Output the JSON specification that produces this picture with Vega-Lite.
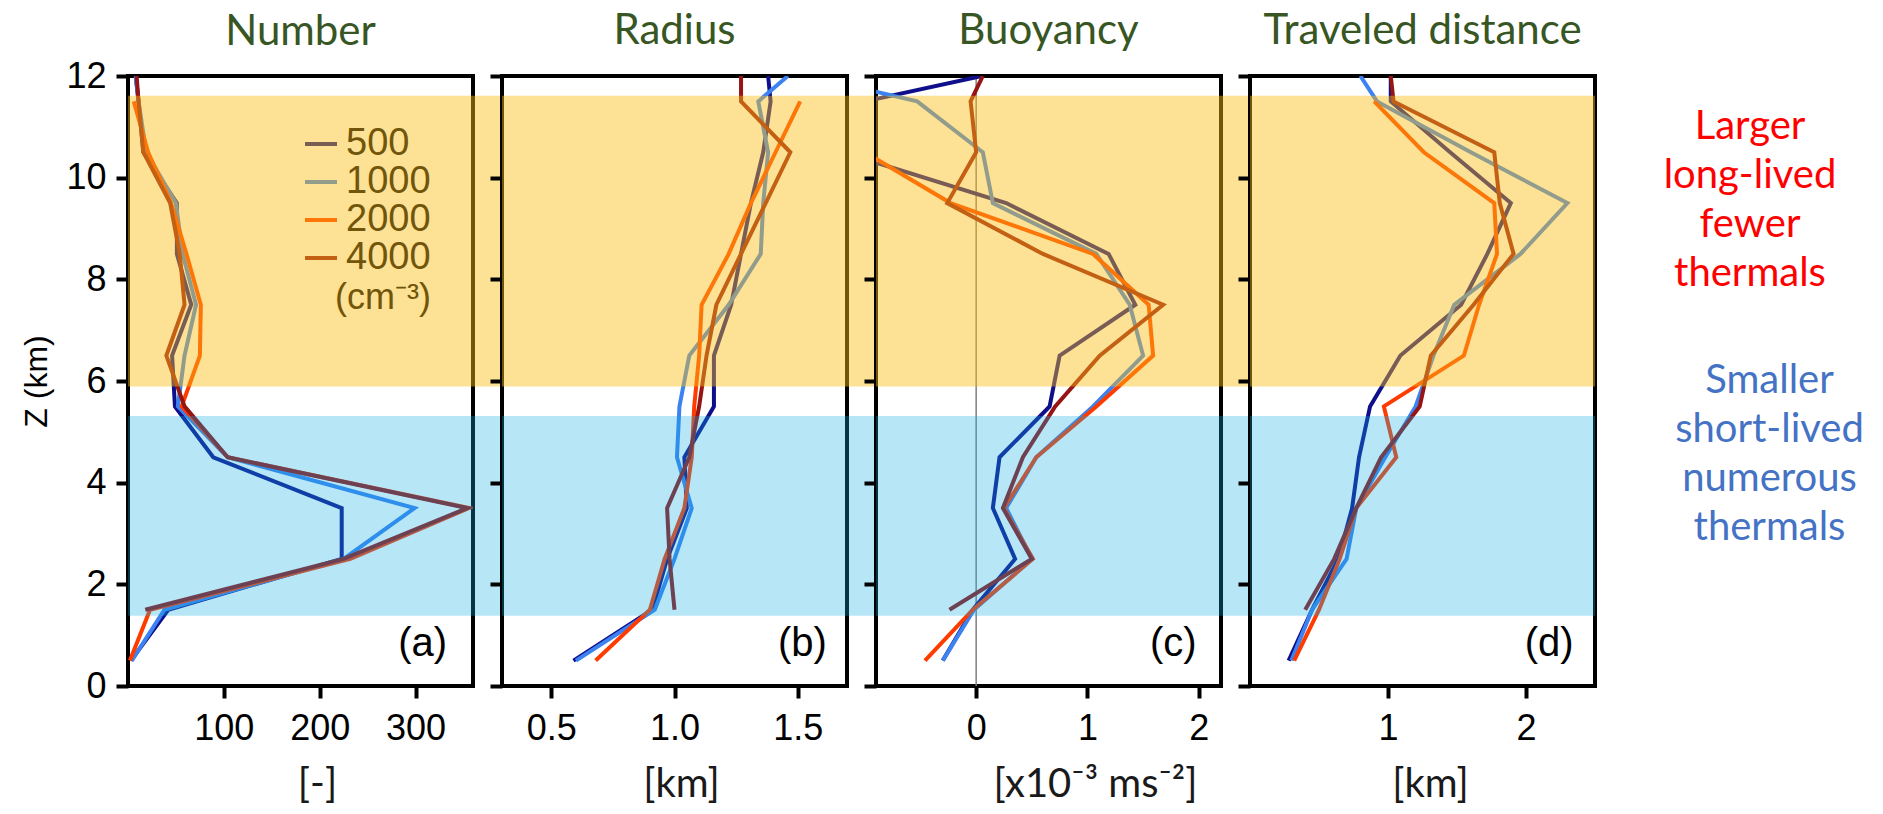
{
  "$schema": "https://vega.github.io/schema/vega-lite/v6.json",
  "background": "white",
  "padding": {"left": 18, "top": 8, "right": 0, "bottom": 0},
  "spacing": 29,
  "bounds": "flush",
  "config": {
    "view": {"stroke": "#000000", "strokeWidth": 4},
    "font": "Liberation Sans",
    "axis": {"grid": false, "domain": false, "tickColor": "#000000", "tickWidth": 4, "tickSize": 12, "labelFontSize": 36, "labelColor": "#000000", "labelFont": "Liberation Sans", "titleFont": "Lato", "titleFontSize": 40, "titleFontWeight": "normal", "titleColor": "#1a1a1a", "labelPadding": 13, "titlePadding": 18},
    "title": {"font": "Lato", "fontSize": 42, "fontWeight": "normal", "color": "#375623", "offset": 21, "anchor": "middle"}
  },
  "datasets": {
    "number": [
      {"ccn": 500, "z": 0.5, "v": 3}, {"ccn": 500, "z": 1.5, "v": 42}, {"ccn": 500, "z": 2.5, "v": 223}, {"ccn": 500, "z": 3.5, "v": 223}, {"ccn": 500, "z": 4.5, "v": 89}, {"ccn": 500, "z": 5.5, "v": 49}, {"ccn": 500, "z": 6.5, "v": 46}, {"ccn": 500, "z": 7.5, "v": 66}, {"ccn": 500, "z": 8.5, "v": 51}, {"ccn": 500, "z": 9.5, "v": 51}, {"ccn": 500, "z": 10.5, "v": 16}, {"ccn": 500, "z": 11.5, "v": 11}, {"ccn": 500, "z": 12, "v": 8},
      {"ccn": 1000, "z": 0.5, "v": 4}, {"ccn": 1000, "z": 1.5, "v": 38}, {"ccn": 1000, "z": 2.5, "v": 225}, {"ccn": 1000, "z": 3.5, "v": 299}, {"ccn": 1000, "z": 4.5, "v": 104}, {"ccn": 1000, "z": 5.5, "v": 52}, {"ccn": 1000, "z": 6.5, "v": 59}, {"ccn": 1000, "z": 7.5, "v": 71}, {"ccn": 1000, "z": 8.5, "v": 57}, {"ccn": 1000, "z": 9.5, "v": 50}, {"ccn": 1000, "z": 10.5, "v": 19}, {"ccn": 1000, "z": 11.5, "v": 11}, {"ccn": 1000, "z": 12, "v": 8},
      {"ccn": 2000, "z": 0.5, "v": 2}, {"ccn": 2000, "z": 1.5, "v": 23}, {"ccn": 2000, "z": 2.5, "v": 232}, {"ccn": 2000, "z": 3.5, "v": 356}, {"ccn": 2000, "z": 4.5, "v": 104}, {"ccn": 2000, "z": 5.5, "v": 56}, {"ccn": 2000, "z": 6.5, "v": 75}, {"ccn": 2000, "z": 7.5, "v": 76}, {"ccn": 2000, "z": 8.5, "v": 61}, {"ccn": 2000, "z": 9.5, "v": 45}, {"ccn": 2000, "z": 10.5, "v": 21}, {"ccn": 2000, "z": 11.5, "v": 6},
      {"ccn": 4000, "z": 1.5, "v": 18}, {"ccn": 4000, "z": 2.5, "v": 225}, {"ccn": 4000, "z": 3.5, "v": 354}, {"ccn": 4000, "z": 4.5, "v": 104}, {"ccn": 4000, "z": 5.5, "v": 59}, {"ccn": 4000, "z": 6.5, "v": 40}, {"ccn": 4000, "z": 7.5, "v": 59}, {"ccn": 4000, "z": 8.5, "v": 54}, {"ccn": 4000, "z": 9.5, "v": 44}, {"ccn": 4000, "z": 10.5, "v": 16}, {"ccn": 4000, "z": 11.5, "v": 11}, {"ccn": 4000, "z": 12, "v": 9}
    ],
    "radius": [
      {"ccn": 500, "z": 0.5, "v": 0.59}, {"ccn": 500, "z": 1.5, "v": 0.91}, {"ccn": 500, "z": 2.5, "v": 0.97}, {"ccn": 500, "z": 3.5, "v": 1.05}, {"ccn": 500, "z": 4.5, "v": 1.04}, {"ccn": 500, "z": 5.5, "v": 1.16}, {"ccn": 500, "z": 6.5, "v": 1.16}, {"ccn": 500, "z": 7.5, "v": 1.23}, {"ccn": 500, "z": 8.5, "v": 1.27}, {"ccn": 500, "z": 9.5, "v": 1.31}, {"ccn": 500, "z": 10.5, "v": 1.36}, {"ccn": 500, "z": 11.5, "v": 1.39}, {"ccn": 500, "z": 12, "v": 1.38},
      {"ccn": 1000, "z": 0.5, "v": 0.6}, {"ccn": 1000, "z": 1.5, "v": 0.92}, {"ccn": 1000, "z": 2.5, "v": 1.0}, {"ccn": 1000, "z": 3.5, "v": 1.07}, {"ccn": 1000, "z": 4.5, "v": 1.01}, {"ccn": 1000, "z": 5.5, "v": 1.02}, {"ccn": 1000, "z": 6.5, "v": 1.06}, {"ccn": 1000, "z": 7.5, "v": 1.22}, {"ccn": 1000, "z": 8.5, "v": 1.35}, {"ccn": 1000, "z": 9.5, "v": 1.36}, {"ccn": 1000, "z": 10.5, "v": 1.38}, {"ccn": 1000, "z": 11.5, "v": 1.34}, {"ccn": 1000, "z": 12, "v": 1.46},
      {"ccn": 2000, "z": 0.5, "v": 0.68}, {"ccn": 2000, "z": 1.5, "v": 0.9}, {"ccn": 2000, "z": 2.5, "v": 0.96}, {"ccn": 2000, "z": 3.5, "v": 1.04}, {"ccn": 2000, "z": 4.5, "v": 1.07}, {"ccn": 2000, "z": 5.5, "v": 1.08}, {"ccn": 2000, "z": 6.5, "v": 1.1}, {"ccn": 2000, "z": 7.5, "v": 1.11}, {"ccn": 2000, "z": 8.5, "v": 1.22}, {"ccn": 2000, "z": 9.5, "v": 1.31}, {"ccn": 2000, "z": 10.5, "v": 1.41}, {"ccn": 2000, "z": 11.5, "v": 1.51},
      {"ccn": 4000, "z": 1.5, "v": 1.0}, {"ccn": 4000, "z": 2.5, "v": 0.98}, {"ccn": 4000, "z": 3.5, "v": 0.97}, {"ccn": 4000, "z": 4.5, "v": 1.06}, {"ccn": 4000, "z": 5.5, "v": 1.1}, {"ccn": 4000, "z": 6.5, "v": 1.13}, {"ccn": 4000, "z": 7.5, "v": 1.17}, {"ccn": 4000, "z": 8.5, "v": 1.27}, {"ccn": 4000, "z": 9.5, "v": 1.37}, {"ccn": 4000, "z": 10.5, "v": 1.47}, {"ccn": 4000, "z": 11.5, "v": 1.27}, {"ccn": 4000, "z": 12, "v": 1.27}
    ],
    "buoyancy": [
      {"ccn": 500, "z": 0.5, "v": -0.3}, {"ccn": 500, "z": 1.5, "v": -0.03}, {"ccn": 500, "z": 2.5, "v": 0.35}, {"ccn": 500, "z": 3.5, "v": 0.15}, {"ccn": 500, "z": 4.5, "v": 0.21}, {"ccn": 500, "z": 5.5, "v": 0.66}, {"ccn": 500, "z": 6.5, "v": 0.75}, {"ccn": 500, "z": 7.5, "v": 1.43}, {"ccn": 500, "z": 8.5, "v": 1.19}, {"ccn": 500, "z": 9.5, "v": 0.27}, {"ccn": 500, "z": 10.5, "v": -1.2}, {"ccn": 500, "z": 11.5, "v": -1.0}, {"ccn": 500, "z": 12, "v": 0.05},
      {"ccn": 1000, "z": 0.5, "v": -0.3}, {"ccn": 1000, "z": 1.5, "v": -0.02}, {"ccn": 1000, "z": 2.5, "v": 0.5}, {"ccn": 1000, "z": 3.5, "v": 0.27}, {"ccn": 1000, "z": 4.5, "v": 0.54}, {"ccn": 1000, "z": 5.5, "v": 1.05}, {"ccn": 1000, "z": 6.5, "v": 1.5}, {"ccn": 1000, "z": 7.5, "v": 1.38}, {"ccn": 1000, "z": 8.5, "v": 1.08}, {"ccn": 1000, "z": 9.5, "v": 0.15}, {"ccn": 1000, "z": 10.5, "v": 0.06}, {"ccn": 1000, "z": 11.5, "v": -0.53}, {"ccn": 1000, "z": 12, "v": -1.5},
      {"ccn": 2000, "z": 0.5, "v": -0.46}, {"ccn": 2000, "z": 1.5, "v": -0.03}, {"ccn": 2000, "z": 2.5, "v": 0.51}, {"ccn": 2000, "z": 3.5, "v": 0.25}, {"ccn": 2000, "z": 4.5, "v": 0.54}, {"ccn": 2000, "z": 5.5, "v": 1.08}, {"ccn": 2000, "z": 6.5, "v": 1.59}, {"ccn": 2000, "z": 7.5, "v": 1.55}, {"ccn": 2000, "z": 8.5, "v": 1.05}, {"ccn": 2000, "z": 9.5, "v": -0.23}, {"ccn": 2000, "z": 10.5, "v": -1.0}, {"ccn": 2000, "z": 11.5, "v": -1.5},
      {"ccn": 4000, "z": 1.5, "v": -0.24}, {"ccn": 4000, "z": 2.5, "v": 0.5}, {"ccn": 4000, "z": 3.5, "v": 0.24}, {"ccn": 4000, "z": 4.5, "v": 0.42}, {"ccn": 4000, "z": 5.5, "v": 0.71}, {"ccn": 4000, "z": 6.5, "v": 1.11}, {"ccn": 4000, "z": 7.5, "v": 1.68}, {"ccn": 4000, "z": 8.5, "v": 0.6}, {"ccn": 4000, "z": 9.5, "v": -0.26}, {"ccn": 4000, "z": 10.5, "v": 0.0}, {"ccn": 4000, "z": 11.5, "v": -0.05}, {"ccn": 4000, "z": 12, "v": 0.06}
    ],
    "distance": [
      {"ccn": 500, "z": 0.5, "v": 0.28}, {"ccn": 500, "z": 1.5, "v": 0.45}, {"ccn": 500, "z": 2.5, "v": 0.64}, {"ccn": 500, "z": 3.5, "v": 0.74}, {"ccn": 500, "z": 4.5, "v": 0.79}, {"ccn": 500, "z": 5.5, "v": 0.87}, {"ccn": 500, "z": 6.5, "v": 1.09}, {"ccn": 500, "z": 7.5, "v": 1.53}, {"ccn": 500, "z": 8.5, "v": 1.72}, {"ccn": 500, "z": 9.5, "v": 1.89}, {"ccn": 500, "z": 10.5, "v": 1.45}, {"ccn": 500, "z": 11.5, "v": 1.02}, {"ccn": 500, "z": 12, "v": 1.02},
      {"ccn": 1000, "z": 0.5, "v": 0.3}, {"ccn": 1000, "z": 1.5, "v": 0.45}, {"ccn": 1000, "z": 2.5, "v": 0.7}, {"ccn": 1000, "z": 3.5, "v": 0.77}, {"ccn": 1000, "z": 4.5, "v": 0.98}, {"ccn": 1000, "z": 5.5, "v": 1.2}, {"ccn": 1000, "z": 6.5, "v": 1.33}, {"ccn": 1000, "z": 7.5, "v": 1.48}, {"ccn": 1000, "z": 8.5, "v": 1.96}, {"ccn": 1000, "z": 9.5, "v": 2.3}, {"ccn": 1000, "z": 10.5, "v": 1.6}, {"ccn": 1000, "z": 11.5, "v": 0.92}, {"ccn": 1000, "z": 12, "v": 0.8},
      {"ccn": 2000, "z": 0.5, "v": 0.32}, {"ccn": 2000, "z": 1.5, "v": 0.5}, {"ccn": 2000, "z": 2.5, "v": 0.65}, {"ccn": 2000, "z": 3.5, "v": 0.77}, {"ccn": 2000, "z": 4.5, "v": 1.06}, {"ccn": 2000, "z": 5.5, "v": 0.97}, {"ccn": 2000, "z": 6.5, "v": 1.55}, {"ccn": 2000, "z": 7.5, "v": 1.66}, {"ccn": 2000, "z": 8.5, "v": 1.79}, {"ccn": 2000, "z": 9.5, "v": 1.77}, {"ccn": 2000, "z": 10.5, "v": 1.26}, {"ccn": 2000, "z": 11.5, "v": 0.9},
      {"ccn": 4000, "z": 1.5, "v": 0.4}, {"ccn": 4000, "z": 2.5, "v": 0.61}, {"ccn": 4000, "z": 3.5, "v": 0.77}, {"ccn": 4000, "z": 4.5, "v": 0.95}, {"ccn": 4000, "z": 5.5, "v": 1.23}, {"ccn": 4000, "z": 6.5, "v": 1.31}, {"ccn": 4000, "z": 7.5, "v": 1.62}, {"ccn": 4000, "z": 8.5, "v": 1.91}, {"ccn": 4000, "z": 9.5, "v": 1.81}, {"ccn": 4000, "z": 10.5, "v": 1.77}, {"ccn": 4000, "z": 11.5, "v": 1.04}, {"ccn": 4000, "z": 12, "v": 1.02}
    ],
    "bands": [{"zone": "upper", "z": 5.89, "z_top": 11.61}],
    "bandsLow": [{"zone": "lower", "z": 1.38, "z_top": 5.31}]
  },
  "resolve": {"scale": {"x": "independent", "y": "shared", "color": "shared"}, "legend": {"stroke": "independent"}},
  "hconcat": [
    {
      "title": {"text": "Number", "offset": 4},
      "width": 345, "height": 610,
      "layer": [
        {
          "data": {"name": "number"},
          "mark": {"type": "line", "strokeWidth": 4, "clip": true},
          "encoding": {
            "x": {"field": "v", "type": "quantitative", "scale": {"domain": [0, 360], "nice": false, "zero": false}, "axis": {"values": [100, 200, 300], "title": "[-]", "titleX": 189}},
            "y": {"field": "z", "type": "quantitative", "scale": {"domain": [0, 12], "nice": false}, "axis": {"values": [0, 2, 4, 6, 8, 10, 12], "title": "Z (km)", "titleFont": "Liberation Sans", "titleFontSize": 32, "titleColor": "#000000", "titlePadding": 12, "labelPadding": 10}},
            "color": {"field": "ccn", "type": "ordinal", "scale": {"domain": [500, 1000, 2000, 4000], "range": ["#0f0f8c", "#3c82f0", "#ff3c00", "#961414"]}, "legend": null},
            "order": {"field": "z", "type": "quantitative"}
          }
        },
        {
          "data": {"name": "number"},
          "transform": [{"filter": "false"}],
          "mark": {"type": "line", "strokeWidth": 4},
          "encoding": {
            "x": {"field": "v", "type": "quantitative"},
            "y": {"field": "z", "type": "quantitative"},
            "stroke": {"field": "ccn", "type": "ordinal", "scale": {"domain": [500, 1000, 2000, 4000], "range": ["#795d55", "#929d8c", "#fd7608", "#c46013"]},
              "legend": {"orient": "none", "legendX": 174, "legendY": 49, "padding": 0, "title": "(cm⁻³)", "titleOrient": "bottom", "titleAnchor": "end", "titleFont": "Liberation Sans", "titleFontSize": 36, "titleFontWeight": "normal", "titleColor": "#71550a", "titlePadding": 4, "labelFont": "Liberation Sans", "labelFontSize": 38, "labelColor": "#71550a", "labelOffset": 6, "symbolType": "stroke", "symbolSize": 1024, "symbolStrokeWidth": 4, "rowPadding": 0}}
          }
        },
        {
          "data": {"name": "bands"},
          "mark": {"type": "rect", "color": "#fbbd12", "opacity": 0.45, "x2Offset": 29},
          "encoding": {"x": {"datum": 0}, "x2": {"datum": 360}, "y": {"field": "z", "type": "quantitative"}, "y2": {"field": "z_top"}}
        },
        {
          "data": {"name": "bandsLow"},
          "mark": {"type": "rect", "color": "#12ace4", "opacity": 0.3, "x2Offset": 29},
          "encoding": {"x": {"datum": 0}, "x2": {"datum": 360}, "y": {"field": "z", "type": "quantitative"}, "y2": {"field": "z_top"}}
        },
        {
          "data": {"values": [{"label": "(a)"}]},
          "mark": {"type": "text", "align": "right", "baseline": "middle", "fontSize": 40, "font": "Liberation Sans", "color": "#000000"},
          "encoding": {"x": {"datum": 333}, "y": {"datum": 0.83}, "text": {"field": "label"}}
        }
      ]
    },
    {
      "title": "Radius",
      "width": 345, "height": 610,
      "layer": [
        {
          "data": {"name": "radius"},
          "mark": {"type": "line", "strokeWidth": 4, "clip": true},
          "encoding": {
            "x": {"field": "v", "type": "quantitative", "scale": {"domain": [0.3, 1.7], "nice": false, "zero": false}, "axis": {"values": [0.5, 1.0, 1.5], "format": ".1f", "title": "[km]", "titleX": 179}},
            "y": {"field": "z", "type": "quantitative", "axis": {"values": [0, 2, 4, 6, 8, 10, 12], "labels": false, "title": null}},
            "color": {"field": "ccn", "type": "ordinal", "legend": null},
            "order": {"field": "z", "type": "quantitative"}
          }
        },
        {
          "data": {"name": "bands"},
          "mark": {"type": "rect", "color": "#fbbd12", "opacity": 0.45, "x2Offset": 29},
          "encoding": {"x": {"datum": 0.3}, "x2": {"datum": 1.7}, "y": {"field": "z", "type": "quantitative"}, "y2": {"field": "z_top"}}
        },
        {
          "data": {"name": "bandsLow"},
          "mark": {"type": "rect", "color": "#12ace4", "opacity": 0.3, "x2Offset": 29},
          "encoding": {"x": {"datum": 0.3}, "x2": {"datum": 1.7}, "y": {"field": "z", "type": "quantitative"}, "y2": {"field": "z_top"}}
        },
        {
          "data": {"values": [{"label": "(b)"}]},
          "mark": {"type": "text", "align": "right", "baseline": "middle", "fontSize": 40, "font": "Liberation Sans", "color": "#000000"},
          "encoding": {"x": {"datum": 1.618}, "y": {"datum": 0.83}, "text": {"field": "label"}}
        }
      ]
    },
    {
      "title": "Buoyancy",
      "width": 345, "height": 610,
      "layer": [
        {
          "data": {"values": [{"ref": 0}]},
          "mark": {"type": "rule", "color": "#808080", "strokeWidth": 1.5},
          "encoding": {"x": {"field": "ref", "type": "quantitative"}}
        },
        {
          "data": {"name": "buoyancy"},
          "mark": {"type": "line", "strokeWidth": 4, "clip": true},
          "encoding": {
            "x": {"field": "v", "type": "quantitative", "scale": {"domain": [-0.9, 2.2], "nice": false, "zero": false}, "axis": {"values": [0, 1, 2], "format": "d", "title": "[x10⁻³ ms⁻²]", "titleX": 219}},
            "y": {"field": "z", "type": "quantitative", "axis": {"values": [0, 2, 4, 6, 8, 10, 12], "labels": false, "title": null}},
            "color": {"field": "ccn", "type": "ordinal", "legend": null},
            "order": {"field": "z", "type": "quantitative"}
          }
        },
        {
          "data": {"name": "bands"},
          "mark": {"type": "rect", "color": "#fbbd12", "opacity": 0.45, "x2Offset": 29},
          "encoding": {"x": {"datum": -0.9}, "x2": {"datum": 2.2}, "y": {"field": "z", "type": "quantitative"}, "y2": {"field": "z_top"}}
        },
        {
          "data": {"name": "bandsLow"},
          "mark": {"type": "rect", "color": "#12ace4", "opacity": 0.3, "x2Offset": 29},
          "encoding": {"x": {"datum": -0.9}, "x2": {"datum": 2.2}, "y": {"field": "z", "type": "quantitative"}, "y2": {"field": "z_top"}}
        },
        {
          "data": {"values": [{"label": "(c)"}]},
          "mark": {"type": "text", "align": "right", "baseline": "middle", "fontSize": 40, "font": "Liberation Sans", "color": "#000000"},
          "encoding": {"x": {"datum": 1.98}, "y": {"datum": 0.83}, "text": {"field": "label"}}
        }
      ]
    },
    {
      "title": "Traveled distance",
      "width": 345, "height": 610,
      "layer": [
        {
          "data": {"name": "distance"},
          "mark": {"type": "line", "strokeWidth": 4, "clip": true},
          "encoding": {
            "x": {"field": "v", "type": "quantitative", "scale": {"domain": [0, 2.5], "nice": false, "zero": false}, "axis": {"values": [1, 2], "format": "d", "title": "[km]", "titleX": 180}},
            "y": {"field": "z", "type": "quantitative", "axis": {"values": [0, 2, 4, 6, 8, 10, 12], "labels": false, "title": null}},
            "color": {"field": "ccn", "type": "ordinal", "legend": null},
            "order": {"field": "z", "type": "quantitative"}
          }
        },
        {
          "data": {"name": "bands"},
          "mark": {"type": "rect", "color": "#fbbd12", "opacity": 0.45},
          "encoding": {"x": {"datum": 0}, "x2": {"datum": 2.5}, "y": {"field": "z", "type": "quantitative"}, "y2": {"field": "z_top"}}
        },
        {
          "data": {"name": "bandsLow"},
          "mark": {"type": "rect", "color": "#12ace4", "opacity": 0.3},
          "encoding": {"x": {"datum": 0}, "x2": {"datum": 2.5}, "y": {"field": "z", "type": "quantitative"}, "y2": {"field": "z_top"}}
        },
        {
          "data": {"values": [{"label": "(d)"}]},
          "mark": {"type": "text", "align": "right", "baseline": "middle", "fontSize": 40, "font": "Liberation Sans", "color": "#000000"},
          "encoding": {"x": {"datum": 2.345}, "y": {"datum": 0.83}, "text": {"field": "label"}}
        }
      ]
    },
    {
      "width": 300, "height": 610,
      "view": {"stroke": null},
      "layer": [
        {
          "data": {"values": [{"note": ["Larger", "long-lived", "fewer", "thermals"]}]},
          "mark": {"type": "text", "font": "Lato", "fontSize": 40, "lineHeight": 49, "color": "#ff0000", "align": "center", "baseline": "middle"},
          "encoding": {"x": {"datum": 0.42, "scale": {"domain": [0, 1]}, "axis": null}, "y": {"datum": 11.0, "axis": null}, "text": {"field": "note"}}
        },
        {
          "data": {"values": [{"note": ["Smaller", "short-lived", "numerous", "thermals"]}]},
          "mark": {"type": "text", "font": "Lato", "fontSize": 40, "lineHeight": 49, "color": "#4472c4", "align": "center", "baseline": "middle"},
          "encoding": {"x": {"datum": 0.485, "axis": null}, "y": {"datum": 6.0, "axis": null}, "text": {"field": "note"}}
        }
      ]
    }
  ]
}
